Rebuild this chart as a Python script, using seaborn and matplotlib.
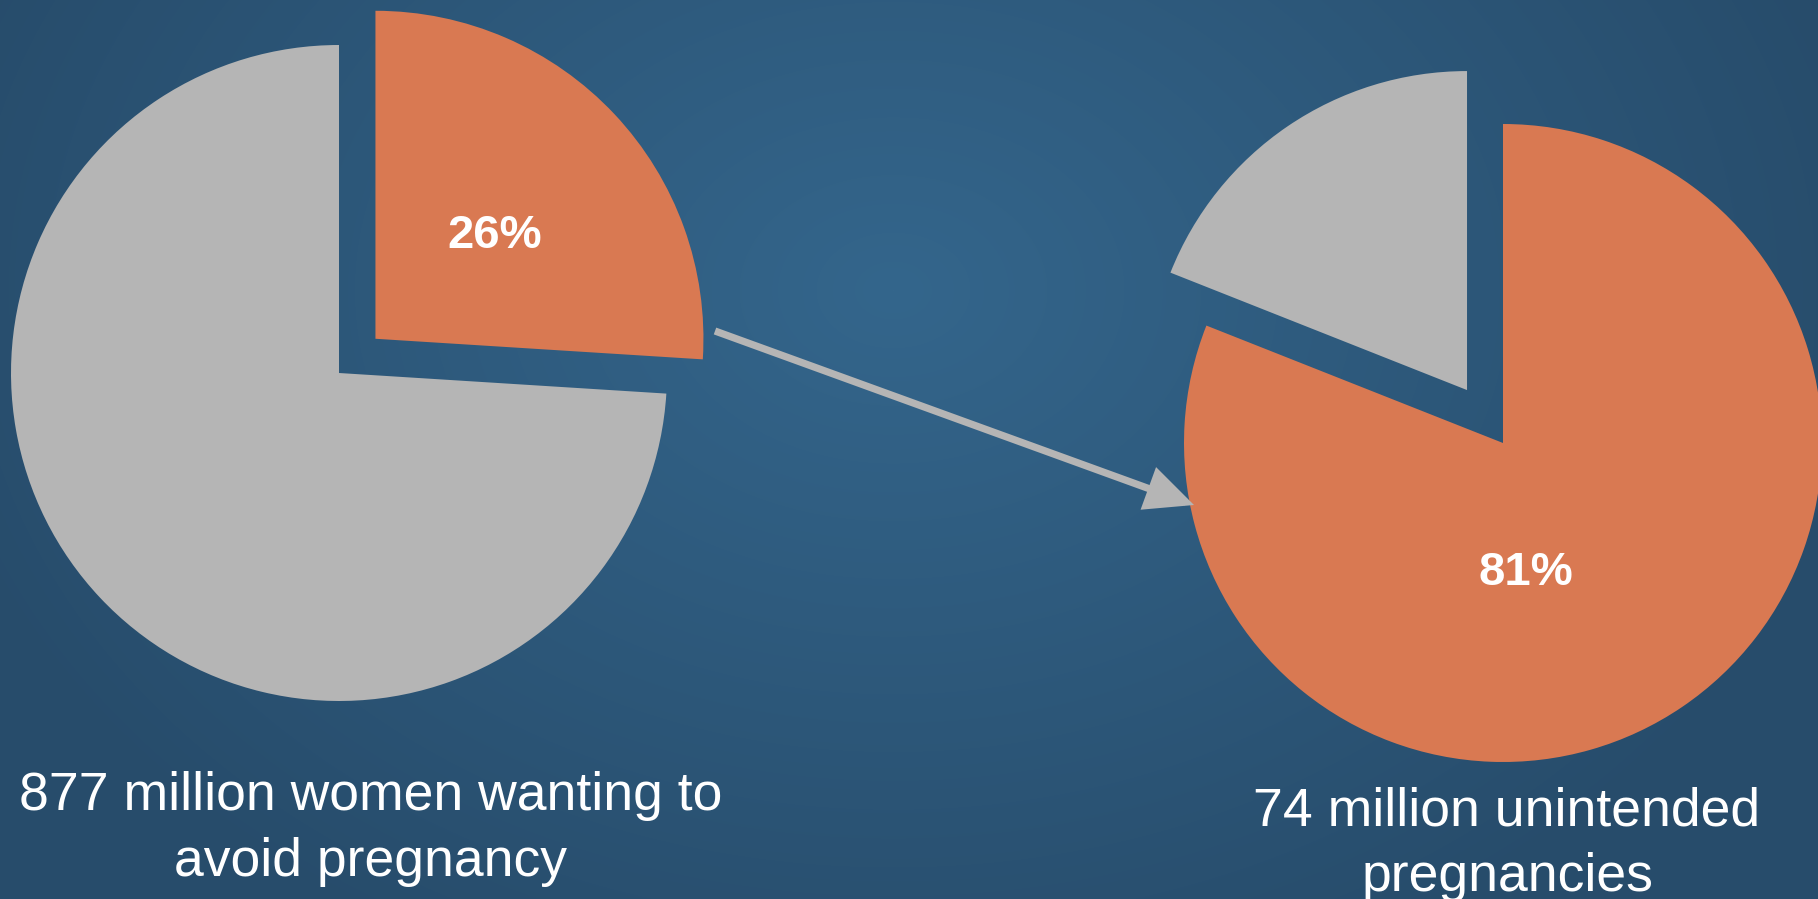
import numpy as np
import matplotlib
matplotlib.use("Agg")
import matplotlib.pyplot as plt
import seaborn as sns

# =========================
# Data
# =========================

left_values = [26, 74]          # % of women with unmet need
right_values = [81, 19]         # % of unintended pregnancies
left_label = "877 million women wanting to\navoid pregnancy"
right_label = "74 million unintended\npregnancies"

orange = "#d97952"
gray = "#b5b5b5"

sns.set_theme(style="white")
plt.rcParams["font.family"] = ["Liberation Sans", "DejaVu Sans"]

W, H = 1818, 899
fig = plt.figure(figsize=(W / 100, H / 100), dpi=100)
ax = fig.add_axes([0, 0, 1, 1])

# =========================
# Radial background
# =========================

yy, xx = np.mgrid[0:H, 0:W]
d = np.sqrt(((xx - 893) / 1000.0) ** 2 + ((yy - 290) / 750.0) ** 2)
d = np.clip(d, 0, 1)
c_in = np.array([0x34, 0x66, 0x8c]) / 255
c_out = np.array([0x27, 0x4c, 0x6b]) / 255
bg = c_in[None, None, :] * (1 - d[..., None]) + c_out[None, None, :] * d[..., None]
ax.imshow(bg, extent=(0, W, 0, H), origin="upper", aspect="auto", zorder=0)

# =========================
# Pies
# =========================

ax.pie(left_values, colors=[orange, gray], startangle=90, counterclock=False,
       explode=[50, 0], center=(339, H - 373), radius=328, frame=True,
       wedgeprops=dict(linewidth=0, zorder=2))

ax.pie(right_values, colors=[orange, gray], startangle=90, counterclock=False,
       explode=[0, 64], center=(1503, H - 443), radius=319, frame=True,
       wedgeprops=dict(linewidth=0, zorder=2))

ax.text(495, H - 236, f"{left_values[0]}%", color="white", fontsize=34,
        fontweight="bold", ha="center", va="center", zorder=3)
ax.text(1526, H - 573, f"{right_values[0]}%", color="white", fontsize=34,
        fontweight="bold", ha="center", va="center", zorder=3)

# arrow between pies
ax.annotate("", xy=(1194, H - 505), xytext=(715, H - 331),
            arrowprops=dict(arrowstyle="-|>,head_length=0.75,head_width=0.35",
                            color=gray, lw=5.2, mutation_scale=35,
                            joinstyle="miter", capstyle="butt",
                            shrinkA=0, shrinkB=0), zorder=3)

# =========================
# Captions
# =========================

ax.text(371, H - 829, left_label, color="white", fontsize=38.5,
        ha="center", va="center", linespacing=1.4, zorder=3)
ax.text(1507, H - 844, right_label, color="white", fontsize=38.5,
        ha="center", va="center", linespacing=1.4, zorder=3)

ax.set_xlim(0, W)
ax.set_ylim(0, H)
ax.set_aspect("equal")
ax.axis("off")

fig.savefig("out.png", dpi=100)
